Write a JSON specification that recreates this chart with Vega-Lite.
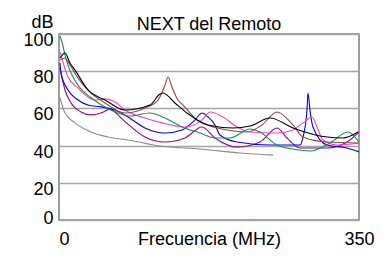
{
  "$schema": "https://vega.github.io/schema/vega-lite/v6.json",
  "width": 300,
  "height": 186,
  "autosize": {"type": "none"},
  "padding": {"left": 59, "top": 34, "right": 31, "bottom": 46},
  "background": "white",
  "title": {"text": "NEXT del Remoto", "fontSize": 18, "font": "Liberation Sans", "fontWeight": "normal", "color": "black", "anchor": "middle", "frame": "group", "baseline": "alphabetic", "offset": 7, "dy": 42},
  "config": {
    "view": {"stroke": "#7f7f7f", "strokeWidth": 1.5},
    "axis": {"labelFont": "Liberation Sans", "titleFont": "Liberation Sans", "labelFontSize": 18, "titleFontSize": 18, "labelColor": "black", "titleColor": "black", "titleFontWeight": "normal"}
  },
  "data": {"values": [
    {"s":"gray","f":1.2,"db":65.6},{"s":"gray","f":7,"db":57.5},{"s":"gray","f":18.7,"db":52.2},{"s":"gray","f":37.3,"db":47.3},{"s":"gray","f":57.2,"db":44.6},{"s":"gray","f":80.5,"db":43.0},{"s":"gray","f":117.8,"db":39.8},{"s":"gray","f":164.5,"db":38.2},{"s":"gray","f":211.2,"db":36.0},{"s":"gray","f":249.7,"db":34.9},
    {"s":"purple","f":1.2,"db":81.7},{"s":"purple","f":7,"db":69.9},{"s":"purple","f":14,"db":62.9},{"s":"purple","f":25.7,"db":58.1},{"s":"purple","f":37.3,"db":56.5},{"s":"purple","f":49,"db":57.5},{"s":"purple","f":59.5,"db":59.6},{"s":"purple","f":74.7,"db":53.8},{"s":"purple","f":100.3,"db":44.6},{"s":"purple","f":123.7,"db":41.9},{"s":"purple","f":147,"db":44.1},{"s":"purple","f":166.8,"db":50.0},{"s":"purple","f":182,"db":44.1},{"s":"purple","f":207.7,"db":39.2},{"s":"purple","f":234.5,"db":41.9},{"s":"purple","f":254.3,"db":49.5},{"s":"purple","f":266,"db":44.1},{"s":"purple","f":281.2,"db":38.7},{"s":"purple","f":312.7,"db":38.7},{"s":"purple","f":336,"db":41.9},{"s":"purple","f":350,"db":47.3},
    {"s":"blue","f":1.2,"db":84.4},{"s":"blue","f":2.3,"db":79.0},{"s":"blue","f":10.5,"db":69.9},{"s":"blue","f":22.2,"db":64.5},{"s":"blue","f":33.8,"db":61.8},{"s":"blue","f":49,"db":60.8},{"s":"blue","f":65.3,"db":59.1},{"s":"blue","f":80.5,"db":55.4},{"s":"blue","f":100.3,"db":49.5},{"s":"blue","f":123.7,"db":46.8},{"s":"blue","f":143.5,"db":48.4},{"s":"blue","f":158.7,"db":53.8},{"s":"blue","f":166.8,"db":57.5},{"s":"blue","f":173.8,"db":55.4},{"s":"blue","f":182,"db":51.1},{"s":"blue","f":187.8,"db":45.7},{"s":"blue","f":207.7,"db":41.9},{"s":"blue","f":246.2,"db":40.3},{"s":"blue","f":281.2,"db":40.3},{"s":"blue","f":284.7,"db":44.6},{"s":"blue","f":289.3,"db":59.1},{"s":"blue","f":290.5,"db":68.3},{"s":"blue","f":292.8,"db":59.1},{"s":"blue","f":296.3,"db":50.0},{"s":"blue","f":312.7,"db":40.3},{"s":"blue","f":336,"db":38.7},{"s":"blue","f":350,"db":36.6},
    {"s":"pink","f":1.2,"db":90.3},{"s":"pink","f":10.5,"db":76.9},{"s":"pink","f":22.2,"db":71.0},{"s":"pink","f":33.8,"db":66.1},{"s":"pink","f":41.3,"db":64.5},{"s":"pink","f":53.7,"db":65.1},{"s":"pink","f":65.3,"db":63.4},{"s":"pink","f":77,"db":59.1},{"s":"pink","f":100.3,"db":54.8},{"s":"pink","f":120.2,"db":52.2},{"s":"pink","f":147,"db":50.0},{"s":"pink","f":166.8,"db":53.8},{"s":"pink","f":176.2,"db":58.1},{"s":"pink","f":191.3,"db":55.4},{"s":"pink","f":207.7,"db":50.0},{"s":"pink","f":222.8,"db":47.3},{"s":"pink","f":254.3,"db":46.8},{"s":"pink","f":273,"db":48.4},{"s":"pink","f":284.7,"db":52.2},{"s":"pink","f":295.2,"db":55.4},{"s":"pink","f":301,"db":50.0},{"s":"pink","f":308,"db":43.0},{"s":"pink","f":324.3,"db":40.3},{"s":"pink","f":350,"db":41.4},
    {"s":"green","f":1.2,"db":98.9},{"s":"green","f":3.5,"db":95.7},{"s":"green","f":7,"db":88.7},{"s":"green","f":10.5,"db":83.3},{"s":"green","f":15.2,"db":78.0},{"s":"green","f":24.5,"db":71.0},{"s":"green","f":36.2,"db":66.1},{"s":"green","f":47.8,"db":62.4},{"s":"green","f":65.3,"db":58.1},{"s":"green","f":82.8,"db":55.9},{"s":"green","f":106.2,"db":57.5},{"s":"green","f":123.7,"db":54.8},{"s":"green","f":143.5,"db":50.0},{"s":"green","f":164.5,"db":46.8},{"s":"green","f":182,"db":44.1},{"s":"green","f":199.5,"db":44.1},{"s":"green","f":222.8,"db":48.9},{"s":"green","f":234.5,"db":47.3},{"s":"green","f":254.3,"db":40.3},{"s":"green","f":281.2,"db":37.6},{"s":"green","f":292.8,"db":37.1},{"s":"green","f":316.2,"db":41.4},{"s":"green","f":337.2,"db":47.3},{"s":"green","f":350,"db":41.9},
    {"s":"brown","f":1.2,"db":86.0},{"s":"brown","f":7,"db":87.1},{"s":"brown","f":12.8,"db":83.3},{"s":"brown","f":22.2,"db":76.3},{"s":"brown","f":36.2,"db":68.8},{"s":"brown","f":53.7,"db":62.9},{"s":"brown","f":77,"db":57.5},{"s":"brown","f":100.3,"db":60.2},{"s":"brown","f":115.5,"db":64.5},{"s":"brown","f":123.7,"db":72.6},{"s":"brown","f":127.2,"db":76.9},{"s":"brown","f":131.8,"db":71.5},{"s":"brown","f":138.8,"db":64.5},{"s":"brown","f":144.7,"db":61.8},{"s":"brown","f":161,"db":53.8},{"s":"brown","f":196,"db":48.4},{"s":"brown","f":219.3,"db":47.3},{"s":"brown","f":236.8,"db":51.1},{"s":"brown","f":254.3,"db":58.1},{"s":"brown","f":273,"db":51.1},{"s":"brown","f":284.7,"db":44.6},{"s":"brown","f":312.7,"db":41.9},{"s":"brown","f":350,"db":41.4},
    {"s":"black","f":1.2,"db":87.1},{"s":"black","f":7,"db":89.8},{"s":"black","f":12.8,"db":84.4},{"s":"black","f":18.7,"db":80.6},{"s":"black","f":33.8,"db":69.9},{"s":"black","f":53.7,"db":64.5},{"s":"black","f":77,"db":59.1},{"s":"black","f":106.2,"db":61.8},{"s":"black","f":117.8,"db":67.7},{"s":"black","f":121.3,"db":68.3},{"s":"black","f":135.3,"db":62.9},{"s":"black","f":149.3,"db":57.5},{"s":"black","f":173.8,"db":51.1},{"s":"black","f":203,"db":49.5},{"s":"black","f":222.8,"db":50.5},{"s":"black","f":246.2,"db":54.8},{"s":"black","f":273,"db":49.5},{"s":"black","f":312.7,"db":44.6},{"s":"black","f":331.3,"db":44.1},{"s":"black","f":348.8,"db":47.3}
  ]},
  "mark": {"type": "line", "interpolate": "monotone", "strokeWidth": 1.1, "clip": true},
  "encoding": {
    "x": {"field": "f", "type": "quantitative", "scale": {"domain": [0, 350], "nice": false},
      "axis": {"values": [0, 350], "title": "Frecuencia (MHz)", "grid": false, "domain": false, "ticks": false, "labelPadding": 10, "labelBaseline": "top",
        "labelAlign": {"condition": {"test": "datum.value == 0", "value": "left"}, "value": "center"},
        "titleY": 10, "titleBaseline": "top", "titlePadding": 0}},
    "y": {"field": "db", "type": "quantitative", "scale": {"domain": [0, 100], "nice": false},
      "axis": {"values": [0, 20, 40, 60, 80, 100], "title": "dB", "grid": true, "gridColor": "#a6a6a6", "gridWidth": 1.5, "domain": false, "ticks": false, "labelPadding": 6, "labelBaseline": "middle",
        "labelOffset": {"condition": {"test": "datum.value == 0", "value": -1.5}, "value": 6.5},
        "titleAngle": 0, "titleAlign": "right", "titleBaseline": "alphabetic", "titleX": -6, "titleY": -7}},
    "color": {"field": "s", "type": "nominal", "legend": null,
      "scale": {"domain": ["gray", "purple", "blue", "pink", "green", "brown", "black"],
        "range": ["#8c8c8c", "#990099", "#0000ff", "#ff40c0", "#14934a", "#8b4a4a", "#000000"]}},
    "order": {"field": "f", "type": "quantitative"}
  }
}
